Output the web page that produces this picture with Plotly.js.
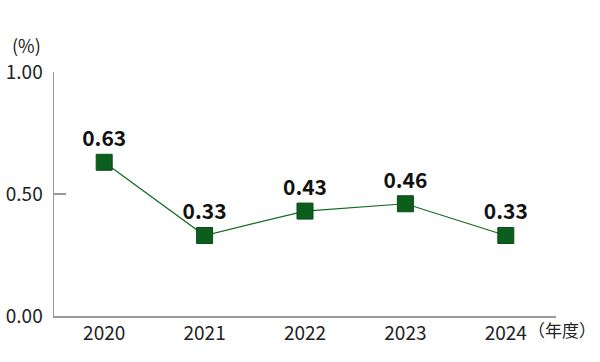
<!DOCTYPE html>
<html><head><meta charset="utf-8">
<script src="https://cdn.plot.ly/plotly-3.0.1.min.js"></script>
<style>html,body{margin:0;padding:0;background:#fff}#c{width:600px;height:362px}</style>
</head><body><div id="c"></div>
<script>
const years = ["2020","2021","2022","2023","2024"];
const values = [0.63, 0.33, 0.43, 0.46, 0.33];
const labels = ["0.63","0.33","0.43","0.46","0.33"];
const yTicks = [0, 0.5, 1];
const yTickText = ["0.00","0.50","1.00"];
const FONT = '"Noto Sans CJK JP", "Noto Sans", sans-serif';
const data = [{
  x: years, y: values, type: 'scatter', mode: 'lines+markers+text',
  text: labels, textposition: 'top center',
  textfont: {family: FONT, size: 21, color: '#111', weight: 'bold'},
  line: {color: '#0f6b1f', width: 1.2},
  marker: {symbol: 'square', size: 16, color: '#0b5e1c', line: {color: '#094d16', width: 1}},
  cliponaxis: false, hoverinfo: 'none'
}];
const layout = {
  width: 600, height: 362,
  margin: {l: 54, r: 44, t: 72, b: 46},
  paper_bgcolor: '#fff', plot_bgcolor: '#fff',
  showlegend: false,
  font: {family: FONT, size: 19, color: '#222'},
  xaxis: {type: 'category', range: [-0.5, 4.5], showgrid: false, zeroline: false,
    showline: true, linecolor: '#999', linewidth: 1.5, ticks: '', ticklen: 0,
    tickfont: {family: FONT, size: 19, color: '#222'}},
  yaxis: {range: [0, 1], tickvals: yTicks, ticktext: yTickText, showgrid: false, zeroline: false,
    showline: true, linecolor: '#999', linewidth: 1.5, ticks: 'inside', ticklen: 12, tickcolor: '#999', tickwidth: 1.5,
    ticklabelstandoff: 6,
    tickfont: {family: FONT, size: 19, color: '#222'}},
  annotations: [
    {text: '(%)', xref: 'paper', yref: 'paper', x: -0.054, y: 1.11, xanchor: 'center', yanchor: 'middle', showarrow: false, font: {family: FONT, size: 18, color: '#222'}},
    {text: '（年度）', xref: 'paper', yref: 'paper', x: 1.084, y: -0.057, xanchor: 'right', yanchor: 'middle', showarrow: false, font: {family: FONT, size: 17, color: '#222'}}
  ]
};
Plotly.newPlot('c', data, layout, {staticPlot: true});
</script></body></html>
